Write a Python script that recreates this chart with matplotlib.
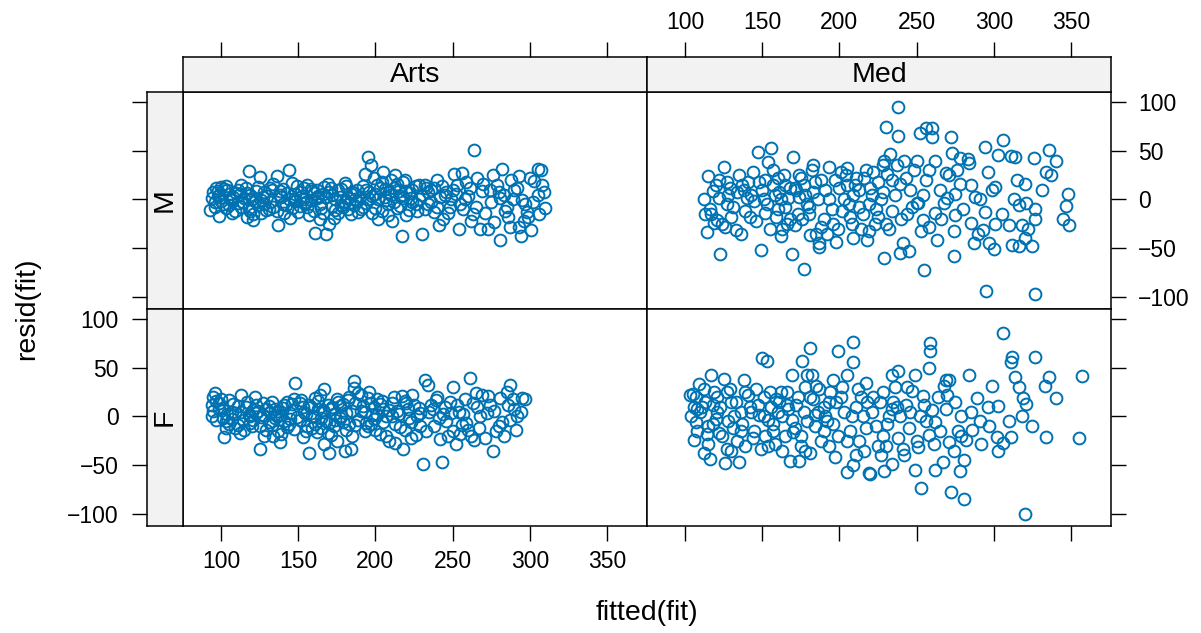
import numpy as np
import matplotlib
matplotlib.use("Agg")
import matplotlib.pyplot as plt

plt.rcParams['font.family'] = ['Liberation Sans', 'DejaVu Sans']

# (fitted, residual) pairs, one list per faculty / gender panel
arts_m = [
    (95, 8), (97, 12), (93, -11), (99, 5), (101, -5), (99, -17), (104, 10), (106, 0), (96, -8), (108, 3),
    (103, 14), (100, -2), (107, -14), (110, 7), (94, 2), (105, -6), (102, 11), (109, -12), (98, 4),
    (112, 6), (114, -3), (116, 12), (118, -9), (118, 29), (125, 23), (120, 1), (121, -15), (121, -21),
    (123, 9), (124, -6), (127, 3), (129, -11), (113, 15), (126, -1), (119, 5), (117, -18), (128, 8), (111, -4),
    (136, 24), (144, 30), (137, -26), (132, 12), (134, -8), (139, 3), (141, -14), (143, 7), (146, 17),
    (148, -2), (133, 10), (145, -19), (138, 5), (140, -5), (147, 1), (149, 14), (131, -10),
    (156, 15), (161, -34), (168, -35), (152, 8), (154, -4), (158, 11), (160, -12), (162, 2), (164, -20),
    (166, 6), (169, 16), (151, -7), (153, 0), (157, -16), (159, 9), (163, 4), (165, -9), (167, 13),
    (155, -3), (170, -25),
    (172, 5), (174, -11), (176, 10), (178, -6), (180, 17), (182, 2), (184, -15), (186, 7), (188, -2),
    (171, 12), (173, -19), (177, 3), (179, -8), (181, 14), (183, -4), (185, 8), (187, 0), (189, -13),
    (195, 44), (197, 35), (193, 26), (199, 22), (201, 15), (192, -8), (194, 10), (196, 0), (198, -14),
    (200, 6), (202, -20), (204, 18), (206, 3), (208, -5), (203, 12), (205, 28), (207, -1), (209, 8),
    (191, -10), (210, 20),
    (217, -38), (213, 25), (212, 12), (214, -9), (216, 4), (218, 18), (220, -16), (222, 7), (224, -3),
    (226, 14), (228, 0), (211, -22), (215, 9), (230, -35), (219, 20), (223, 2), (227, -12),
    (232, 15), (234, -5), (236, 10), (238, -13), (240, 20), (242, 3), (244, -20), (246, 8), (248, -8),
    (233, 12), (241, -26), (245, 5), (249, 0),
    (251, 26), (256, 27), (264, 51), (259, 18), (254, -30), (268, -30), (252, 6), (257, -10), (261, 12),
    (263, -15), (266, 22), (258, 0), (262, -22), (269, 9), (253, 15),
    (276, 25), (282, 31), (273, -30), (277, -23), (271, -14), (274, 10), (279, 15), (281, 2), (285, -8),
    (288, 20), (281, -42), (283, 5), (286, -18), (287, -28),
    (293, 24), (307, 30), (300, 22), (303, 19), (308, 15), (295, -1), (310, -9), (298, -13), (299, -18),
    (294, -38), (293, -28), (301, -31), (290, 10), (305, 5), (297, -5), (305, 31),
    (96, -3), (98, 9), (100, 13), (103, -9), (105, 6), (107, -1), (111, 10), (113, -8), (115, 2),
    (117, 7), (119, -12), (122, -2), (124, 13), (126, -14), (128, -5), (130, 4), (132, -3), (134, 16),
    (136, -12), (138, 9), (140, 11), (142, -6), (144, 1), (146, -9), (148, 6), (150, -13), (152, 3),
    (154, 12), (156, -8), (158, -1), (160, 7), (162, 10), (164, -5), (166, -14), (168, 3), (170, 8),
    (172, -7), (174, 1), (176, -14), (178, 11), (180, -3), (182, -10), (184, 6), (186, -6), (188, 10),
    (190, 3), (192, 14), (194, -4), (196, 8), (198, 4), (200, -9), (202, 1), (204, -12), (206, 11),
    (208, -16), (210, 5), (212, -3), (214, 16), (216, -7), (218, 2), (220, 9), (222, -11), (224, 10),
    (226, -5), (228, 15), (230, 5), (232, -10), (234, 8), (236, -3), (238, 12), (240, -8), (243, 14),
    (247, -14), (250, 10), (255, -5), (260, 4), (265, -8), (270, 16), (275, -3), (280, 8), (284, -12),
    (289, 0), (292, 12), (296, -22), (302, -3), (306, -15), (309, 8),
]

arts_f = [
    (96, 24), (95, 20), (97, 16), (94, 12), (94, 1), (101, -2), (102, -21), (99, 8), (105, -8), (107, 5),
    (100, 18), (103, -5), (108, 13), (109, -12), (104, 3),
    (113, 22), (122, 20), (116, 10), (125, -33), (112, -17), (118, 2), (120, -10), (124, 6), (127, 14),
    (114, -4), (129, -14), (121, 7), (126, -1), (111, 11), (119, -7), (128, -20), (123, 4),
    (148, 34), (133, 15), (131, -6), (135, 8), (137, -15), (139, 2), (141, 12), (143, -11), (145, -3),
    (147, 18), (132, 5), (134, -20), (136, 0), (140, 9), (144, -8), (146, 13), (138, -26),
    (157, -38), (152, 17), (154, 5), (156, -10), (158, 10), (160, 0), (162, -16), (164, 22), (166, 7),
    (168, -5), (151, 14), (153, -21), (155, 3), (159, -12), (161, 19), (163, 8), (165, -2), (167, -28),
    (169, 12), (170, -7), (167, 28),
    (170, -38), (186, 36), (186, 29), (180, -35), (184, -33), (172, 10), (174, -4), (176, 15), (178, 0),
    (181, -14), (183, 20), (185, 6), (187, -9), (189, 24), (171, -19), (173, 3), (175, -25), (177, 11),
    (179, -6), (182, 17),
    (191, 22), (193, 5), (195, -10), (197, 14), (199, -3), (201, 18), (203, -18), (205, 8), (207, 0),
    (209, -25), (192, 11), (194, -7), (196, 25), (198, 2), (200, -14), (204, 16),
    (218, -33), (212, 20), (214, 6), (216, -11), (220, 14), (222, -2), (224, 22), (226, -19), (228, 9),
    (211, 0), (213, -27), (219, 16), (223, -6), (229, 4),
    (232, 37), (234, 32), (231, -49), (243, -47), (236, 12), (238, -10), (240, 20), (242, -23), (244, 3),
    (246, -5), (248, 15), (250, -15), (237, 8),
    (250, 30), (261, 40), (265, 24), (252, -28), (262, -20), (256, -9), (254, 5), (258, 18), (260, -14),
    (266, 10), (268, 0), (264, -24), (269, 22),
    (281, 19), (274, 12), (276, -35), (272, 4), (278, -15), (287, -4), (287, 32), (295, 19), (297, 18),
    (290, 8), (283, -20), (285, 25), (292, 0), (280, -10), (289, 18),
    (95, 6), (97, -4), (99, 14), (101, 9), (103, -12), (105, 17), (107, -3), (109, 4), (111, -9),
    (113, 5), (115, -14), (117, 15), (119, 1), (121, -4), (123, 12), (125, -10), (127, 2), (129, 8),
    (131, 11), (133, -9), (135, -2), (137, 6), (139, -18), (141, -5), (143, 15), (145, 4), (147, -13),
    (149, -1), (151, -4), (153, 10), (155, -15), (157, 12), (159, 1), (161, -8), (163, 16), (165, -12),
    (167, 5), (169, -17), (171, 8), (173, -10), (175, 18), (177, -2), (179, 13), (181, 4), (183, -8),
    (185, -20), (187, 14), (189, -4), (191, 6), (193, -15), (195, 19), (197, -8), (199, 10), (201, 2),
    (203, 13), (205, -6), (207, -20), (209, 7), (211, 14), (213, -8), (215, 3), (217, 21), (219, -14),
    (221, 8), (223, -22), (225, 12), (227, 0), (229, -10), (233, -15), (235, 5), (239, 17), (241, -2),
    (245, 10), (247, -20), (249, 4), (253, 12), (255, -18), (257, 3), (259, -7), (263, 14), (267, -12),
    (271, -22), (273, 21), (277, 6), (282, -6), (286, 12), (291, -14), (294, 5),
]

med_m = [
    (114, -33), (115, 24), (118, 9), (116, -10), (121, -21), (123, -56), (125, 33), (120, 15), (112, 0),
    (127, -5), (122, 20), (117, -15), (128, 5), (124, -25), (129, 12), (126, -28),
    (133, -31), (135, 25), (138, 10), (131, -8), (140, 2), (142, -18), (147, 49), (144, 28), (149, -52),
    (146, -22), (137, 15), (143, 5), (139, -12), (148, 18),
    (156, 53), (154, 39), (170, 44), (162, -38), (152, 20), (158, 5), (160, -10), (164, 25), (166, -25),
    (168, 12), (151, 0), (153, -5), (157, 30), (159, -18), (161, 8), (163, -30), (165, 15), (167, 2),
    (169, -56),
    (177, -71), (181, -37), (183, 35), (172, 10), (174, 25), (176, -20), (178, 5), (180, -8), (182, 30),
    (184, 18), (186, 0), (188, -28), (171, 12), (173, -15), (175, 22), (179, -5), (187, -45),
    (187, -49), (198, -44), (201, 28), (193, 33), (191, 10), (195, -10), (197, 20), (199, -30), (203, 0),
    (205, 15), (207, -18), (209, 5), (192, -35), (204, 25), (206, -5),
    (211, 22), (209, -40), (218, -42), (213, 10), (215, -15), (217, 30), (219, -5), (221, 5), (223, -25),
    (225, 18), (227, 0), (229, 40), (214, -30), (220, 12), (224, -10), (228, 35), (230, 75),
    (238, 95), (238, 65), (233, 47), (242, 40), (239, 16), (250, -4), (230, -25), (229, -60), (241, -45),
    (245, -53), (239, -55), (234, 20), (236, 5), (244, -15), (248, 30), (246, 10), (232, -30),
    (252, 68), (256, 74), (260, 73), (260, 64), (258, 30), (256, 20), (268, -4), (254, -21), (253, -32),
    (255, -73), (263, -42), (262, -14), (251, -4), (269, 27), (265, 10),
    (272, 64), (273, 48), (278, 43), (284, 37), (283, 42), (278, 16), (275, 6), (275, -16), (274, -32),
    (274, -58), (287, -45), (285, -24), (288, 3), (271, 25),
    (294, 54), (306, 61), (303, 46), (299, 10), (301, 13), (294, -13), (293, -31), (301, -25), (310, -26),
    (300, -51), (297, -45), (295, -94), (291, 0),
    (311, 45), (314, 44), (326, 43), (320, 16), (313, 0), (316, -6), (327, -10), (327, -20), (321, -4),
    (318, -26), (320, -40), (325, -48), (312, -47), (316, -48), (327, -97),
    (336, 51), (340, 40), (334, 28), (337, 25), (348, 6), (347, -7), (345, -20), (349, -26),
    (113, -15), (119, -24), (122, 2), (127, 18), (130, -18), (134, 8), (136, -35), (141, 18), (145, -2),
    (150, 10), (152, -14), (155, -30), (157, 15), (160, 22), (162, 0), (165, -8), (168, -20), (171, -26),
    (174, 3), (177, 15), (180, -15), (183, 8), (185, -35), (188, 20), (190, -20), (193, 0), (196, -25),
    (200, 12), (202, -12), (205, 32), (208, -25), (210, 15), (213, -8), (216, 22), (219, -32), (222, 28),
    (225, -18), (228, 8), (231, 26), (234, -12), (237, 35), (240, -20), (243, 22), (247, -8), (250, 40),
    (254, 5), (258, -28), (262, 40), (266, -20), (270, 2), (276, 30), (280, -10), (285, 15), (290, -35),
    (296, 28), (305, -15), (315, 20), (322, -30), (331, 10),
]

med_f = [
    (105, 23), (103, 22), (109, 33), (117, 43), (107, 20), (111, 10), (107, -6), (106, -24), (112, -38),
    (116, -44), (113, 15), (110, 5), (104, 0), (115, -10), (118, 12), (119, 25), (114, -18), (108, 8),
    (120, -3),
    (125, 39), (138, 37), (122, -17), (127, -33), (126, -48), (135, -47), (121, 20), (123, 10), (128, -5),
    (130, 15), (132, 0), (134, -25), (136, 5), (139, 25), (131, -12), (129, 28), (137, -8),
    (150, 60), (153, 57), (149, -33), (141, 22), (143, 5), (145, -15), (147, 12), (151, 0), (155, 25),
    (157, -8), (159, 18), (152, -20), (154, -4), (156, 10), (158, -28), (146, 28),
    (169, 43), (176, 57), (168, -46), (174, -46), (161, 15), (163, 0), (165, -20), (167, 8), (171, -12),
    (173, 20), (175, -30), (177, 5), (179, -5), (162, 25), (166, 12), (170, -16), (178, 30),
    (181, 70), (179, 43), (182, 43), (185, 31), (181, -38), (197, -42), (199, 67), (196, 38), (183, 18),
    (184, -10), (186, 5), (188, -25), (190, 10), (192, -5), (194, 25), (191, 0), (193, -30), (198, 15),
    (209, 77), (209, 56), (205, 43), (217, 34), (205, -57), (209, -50), (220, -59), (219, -58), (201, 20),
    (203, 5), (207, -15), (211, 10), (213, -25), (215, 0), (212, 28), (216, -35), (218, 15),
    (238, 47), (234, 43), (234, 8), (239, 1), (230, -30), (241, -33), (234, -49), (229, -56), (222, 20),
    (224, -10), (226, 15), (228, -20), (232, 0), (236, 30), (227, -40), (237, 10),
    (259, 76), (259, 67), (258, 50), (249, 43), (247, 26), (254, 21), (252, 1), (260, 7), (245, -12),
    (258, -19), (251, -31), (249, -55), (253, -74), (243, 12), (256, -5), (244, 30),
    (268, 31), (269, 37), (271, 38), (269, 8), (262, -6), (271, -26), (267, -47), (262, -55), (278, -56),
    (272, -78), (279, 1), (275, 15), (277, -15), (264, 20),
    (284, 43), (289, 19), (291, -5), (282, -24), (286, -14), (281, -45), (281, -85), (299, 31), (296, 10),
    (306, 86), (312, 61), (311, 56), (314, 41), (319, 19), (321, 13), (318, 1), (303, 11), (302, -21),
    (311, -21), (306, -27), (320, -100),
    (327, 61), (336, 41), (333, 31), (340, 19), (334, -21),
    (357, 42), (355, -22),
    (106, 10), (108, -15), (112, 28), (115, -28), (118, -8), (121, 5), (124, -20), (127, 25), (130, -35),
    (133, 15), (136, -15), (139, -30), (142, 10), (144, -22), (148, 2), (151, 20), (154, -30), (157, -15),
    (160, 5), (163, -35), (166, 25), (169, -4), (172, 12), (175, -20), (178, -35), (181, 20), (184, 2),
    (187, 28), (190, -15), (193, 15), (196, -8), (199, -20), (202, 30), (205, -25), (208, 0), (211, -40),
    (214, 20), (217, -12), (221, 5), (225, -30), (228, 25), (231, -8), (235, 15), (238, -22), (242, -40),
    (246, 5), (250, -25), (255, 12), (261, -28), (265, -15), (270, 22), (274, -35), (279, -20), (285, 5),
    (292, -28), (297, -10), (303, -35), (310, -5), (316, 30), (325, -10),
]

faculties = ["Arts", "Med"]
genders = ["M", "F"]
x_ticks = [100, 150, 200, 250, 300, 350]
y_ticks = [-100, -50, 0, 50, 100]

point_col = "#0072B2"
strip_col = "#F2F2F2"
xlim = (75.4, 375.9)
ylim = (-112.6, 110.5)

W, H = 1201, 633
fig = plt.figure(figsize=(W / 100, H / 100), dpi=100)


def box(l, t, r, b):
    # pixel edges -> figure fraction rect
    return [l / W, 1 - b / H, (r - l) / W, (b - t) / H]


col_px = [(183, 647), (647, 1111)]
row_px = [(92, 309), (309, 526)]
panels = {("Arts", "M"): arts_m, ("Arts", "F"): arts_f,
          ("Med", "M"): med_m, ("Med", "F"): med_f}

tick_kw = dict(direction="out", length=10.5, width=1.0, labelsize=16.5, color="black")
lw = 1.1

for i, g in enumerate(genders):
    for j, fac in enumerate(faculties):
        l, r = col_px[j]
        t, b = row_px[i]
        ax = fig.add_axes(box(l, t, r, b))
        pts = np.array(panels[(fac, g)], dtype=float)
        ax.plot(pts[:, 0], pts[:, 1], "o", mfc="none", mec=point_col, ms=8.5, mew=1.4)
        ax.set_xlim(xlim)
        ax.set_ylim(ylim)
        ax.set_xticks(x_ticks)
        ax.set_yticks(y_ticks)
        for s in ax.spines.values():
            s.set_linewidth(lw)
        ax.tick_params(axis="x", bottom=(i == 1), top=False,
                       labelbottom=(i == 1 and j == 0), labeltop=False, pad=7, **tick_kw)
        ax.tick_params(axis="y", left=False, right=(j == 1),
                       labelleft=False, labelright=(j == 1 and i == 0), pad=9, **tick_kw)

# strips across the top carry the top axis
for j, fac in enumerate(faculties):
    l, r = col_px[j]
    sx = fig.add_axes(box(l, 57, r, 92))
    sx.set_facecolor(strip_col)
    sx.set_xlim(xlim)
    sx.set_ylim(0, 1)
    sx.set_xticks(x_ticks)
    sx.set_yticks([])
    for s in sx.spines.values():
        s.set_linewidth(lw)
    sx.tick_params(axis="x", bottom=False, top=True, labelbottom=False,
                   labeltop=(j == 1), pad=6, **tick_kw)
    sx.text(0.5, 0.5, fac, transform=sx.transAxes, ha="center", va="center", fontsize=20.5)

# strips down the left side carry the left axis
for i, g in enumerate(genders):
    t, b = row_px[i]
    sy = fig.add_axes(box(147, t, 183, b))
    sy.set_facecolor(strip_col)
    sy.set_ylim(ylim)
    sy.set_xlim(0, 1)
    sy.set_yticks(y_ticks)
    sy.set_xticks([])
    for s in sy.spines.values():
        s.set_linewidth(lw)
    sy.tick_params(axis="y", left=True, right=False, labelleft=(i == 1),
                   labelright=False, pad=10, **tick_kw)
    sy.text(0.5, 0.5, g, transform=sy.transAxes, ha="center", va="center",
            rotation=90, fontsize=20.5)

fig.text(647 / W, 1 - 613 / H, "fitted(fit)", ha="center", va="center", fontsize=20.5)
fig.text(27 / W, 1 - 309 / H, "resid(fit)", ha="center", va="center", rotation=90, fontsize=20.5)

fig.savefig("out.png", dpi=100)
